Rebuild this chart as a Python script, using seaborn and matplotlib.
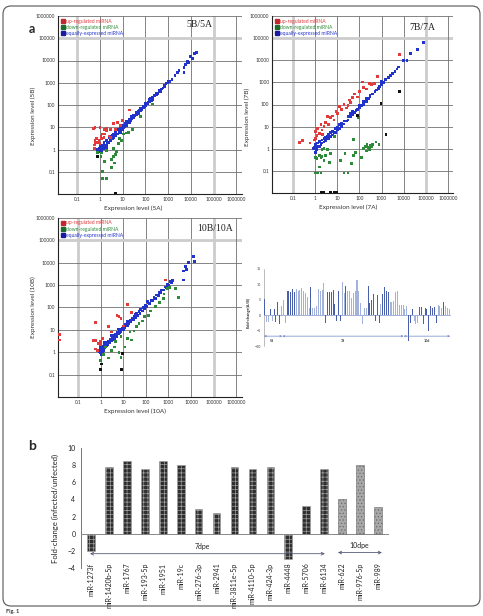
import matplotlib.pyplot as plt
import matplotlib.patches as mpatches
from matplotlib.lines import Line2D
from matplotlib.transforms import blended_transform_factory
import pandas as pd
import seaborn as sns

# ---- panel a: expression levels (A sample, B sample) per miRNA ----
p5_up = [(0.5, 9.0), (0.55, 1.1), (0.6, 10.0), (0.55, 1.6), (0.65, 2.0), (0.7, 3.0), (0.8, 2.0),
         (0.9, 2.5), (1.0, 10.0), (1.1, 4.0), (1.2, 3.0), (1.3, 5.0), (1.5, 8.0), (1.6, 5.0),
         (2.0, 9.0), (2.0, 7.0), (2.5, 4.0), (3.0, 8.0), (3.0, 3.5), (4.0, 15.0), (5.0, 8.0),
         (6.0, 16.0), (8.0, 12.0), (10.0, 20.0), (20.0, 60.0), (1.0, 1.8), (0.6, 2.5), (1.5, 3.5)]
p5_down = [(0.8, 0.76), (1.1, 0.5), (1.6, 0.3), (1.3, 0.1), (1.3, 0.05), (1.9, 0.05), (3.3, 0.16),
           (4.0, 0.47), (5.0, 0.6), (3.3, 0.35), (4.0, 1.1), (6.5, 1.9), (9.0, 2.6), (11.0, 5.0),
           (14.0, 5.5), (27.0, 8.0), (200.0, 110.0), (2.0, 0.9), (5.5, 0.8), (7.0, 3.0), (1.2, 0.7),
           (4.5, 0.25), (18.0, 6.0), (60.0, 30.0)]
p5_equal = [(0.8, 1.0), (0.9, 1.1), (1.0, 0.8), (1.0, 1.0), (1.0, 1.3), (1.1, 1.2), (1.2, 0.9),
            (1.3, 1.5), (1.5, 1.1), (1.5, 2.0), (1.8, 1.3), (2.0, 2.5), (2.0, 1.6), (2.5, 2.0),
            (2.5, 3.5), (3.0, 2.5), (3.0, 4.0), (3.5, 3.0), (4.0, 5.0), (4.0, 3.5), (5.0, 6.0),
            (5.0, 4.0), (6.0, 5.0), (6.0, 8.0), (7.0, 7.0), (8.0, 6.0), (8.0, 10.0), (9.0, 9.0),
            (10.0, 12.0), (10.0, 8.0), (12.0, 11.0), (13.0, 15.0), (15.0, 12.0), (15.0, 18.0),
            (18.0, 16.0), (20.0, 22.0), (20.0, 17.0), (25.0, 24.0), (25.0, 30.0), (30.0, 28.0),
            (30.0, 35.0), (35.0, 32.0), (40.0, 38.0), (40.0, 45.0), (50.0, 50.0), (50.0, 42.0),
            (60.0, 55.0), (60.0, 70.0), (70.0, 65.0), (80.0, 75.0), (80.0, 90.0), (100.0, 95.0),
            (100.0, 120.0), (120.0, 110.0), (150.0, 140.0), (150.0, 170.0), (180.0, 160.0),
            (200.0, 210.0), (200.0, 180.0), (250.0, 260.0), (300.0, 280.0), (300.0, 340.0),
            (400.0, 380.0), (400.0, 450.0), (500.0, 520.0), (600.0, 580.0), (700.0, 750.0),
            (800.0, 900.0), (1000.0, 1000.0), (1000.0, 1200.0), (1500.0, 1400.0), (2000.0, 2100.0),
            (3000.0, 3500.0), (5000.0, 5000.0), (5000.0, 3000.0), (6000.0, 6500.0), (7000.0, 9000.0),
            (8000.0, 8000.0), (10000.0, 15000.0), (12000.0, 12000.0), (15000.0, 20000.0),
            (18000.0, 22000.0), (1.2, 1.0), (1.4, 1.3), (2.2, 2.0), (2.8, 3.0), (3.5, 4.5), (4.5, 4.5),
            (5.5, 5.0), (7.0, 5.5), (11.0, 10.0), (14.0, 13.0), (22.0, 20.0), (28.0, 26.0), (45.0, 40.0),
            (55.0, 60.0), (90.0, 85.0), (130.0, 125.0), (170.0, 190.0), (350.0, 320.0), (450.0, 420.0),
            (700.0, 650.0), (1200.0, 1100.0), (2500.0, 2800.0), (1.6, 1.5), (2.0, 1.2), (1.0, 1.7)]
p5_other = [(0.8, 0.5), (5.0, 0.011)]

p7_up = [(0.19, 1.9), (0.27, 2.3), (0.58, 1.8), (0.9, 2.5), (1.0, 6.0), (1.2, 4.0), (1.3, 8.5),
         (1.5, 5.0), (1.8, 12.0), (2.0, 7.0), (2.5, 10.0), (3.0, 15.0), (3.6, 28.0), (4.0, 12.0),
         (5.0, 25.0), (6.0, 30.0), (8.6, 47.0), (10.0, 40.0), (12.0, 80.0), (15.0, 60.0), (20.0, 100.0),
         (25.0, 70.0), (35.0, 160.0), (40.0, 120.0), (50.0, 200.0), (60.0, 300.0), (82.0, 220.0),
         (100.0, 400.0), (138.0, 1050.0), (150.0, 600.0), (200.0, 500.0), (280.0, 890.0),
         (350.0, 800.0), (470.0, 890.0), (660.0, 1900.0), (6300.0, 18000.0), (1.0, 3.0), (2.2, 4.5),
         (7.0, 20.0), (30.0, 90.0)]
p7_down = [(1.0, 0.4), (1.2, 0.35), (1.5, 0.5), (1.8, 0.4), (2.0, 0.45), (1.0, 0.08), (1.3, 0.08),
           (1.8, 0.08), (1.5, 0.15), (2.0, 0.9), (2.5, 1.0), (3.5, 0.95), (2.5, 0.3), (4.5, 0.23),
           (7.2, 3.5), (14.0, 0.3), (20.0, 0.08), (30.0, 0.08), (22.0, 0.6), (45.0, 0.22), (55.0, 0.5),
           (65.0, 0.7), (55.0, 2.7), (150.0, 1.0), (180.0, 1.3), (220.0, 1.5), (250.0, 1.1),
           (300.0, 1.4), (350.0, 1.2), (400.0, 1.5), (200.0, 0.8), (280.0, 0.9), (560.0, 2.0),
           (760.0, 1.5), (5.0, 0.6), (3.0, 0.5), (90.0, 25.0), (120.0, 0.4)]
p7_equal = [(0.9, 1.2), (1.0, 1.0), (1.0, 1.5), (1.1, 0.9), (1.2, 1.3), (1.3, 1.8), (1.5, 1.3),
            (1.5, 2.2), (1.8, 1.6), (2.0, 2.5), (2.0, 1.8), (2.5, 2.8), (2.5, 2.0), (3.0, 3.2),
            (3.0, 2.4), (3.5, 3.5), (4.0, 3.0), (4.0, 4.5), (5.0, 3.5), (5.0, 5.5), (6.0, 4.2),
            (6.0, 6.0), (7.0, 5.5), (8.0, 5.5), (8.0, 8.0), (10.0, 7.0), (10.0, 9.0), (12.0, 8.0),
            (12.0, 12.0), (15.0, 10.0), (15.0, 14.0), (20.0, 13.0), (20.0, 18.0), (25.0, 18.0),
            (30.0, 20.0), (30.0, 28.0), (40.0, 28.0), (40.0, 38.0), (50.0, 35.0), (50.0, 50.0),
            (60.0, 45.0), (70.0, 55.0), (80.0, 60.0), (100.0, 70.0), (100.0, 90.0), (120.0, 90.0),
            (150.0, 100.0), (150.0, 140.0), (200.0, 140.0), (200.0, 190.0), (250.0, 180.0),
            (300.0, 220.0), (300.0, 260.0), (400.0, 300.0), (500.0, 380.0), (600.0, 450.0),
            (700.0, 550.0), (800.0, 650.0), (1000.0, 800.0), (1000.0, 1100.0), (1200.0, 1000.0),
            (1500.0, 1300.0), (2000.0, 1700.0), (2500.0, 2000.0), (3000.0, 2500.0), (4000.0, 3000.0),
            (5000.0, 4000.0), (6000.0, 5000.0), (10000.0, 10000.0), (14000.0, 10000.0),
            (20000.0, 20000.0), (43000.0, 30000.0), (78000.0, 65000.0), (0.8, 1.0), (1.0, 0.7),
            (1.2, 1.1)]
p7_other = [(80.0, 33.0), (940.0, 110.0), (1600.0, 4.3), (6300.0, 400.0), (1.8, 0.011),
            (2.3, 0.011), (5.0, 0.011), (7.5, 0.011), (9.5, 0.011)]

p10_up = [(0.58, 21.0), (0.5, 3.4), (0.6, 3.4), (0.8, 2.5), (0.95, 3.0), (0.58, 1.4), (0.7, 1.2),
          (2.3, 14.0), (5.3, 45.0), (6.5, 40.0), (8.0, 33.0), (16.0, 140.0), (23.0, 60.0),
          (750.0, 1700.0), (0.015, 6.0), (0.015, 3.5), (3.0, 8.0), (1.2, 4.0), (10.0, 15.0), (1.0, 2.2)]
p10_down = [(1.0, 0.44), (2.3, 0.55), (1.6, 1.7), (4.0, 1.7), (6.5, 1.0), (8.0, 0.6), (12.0, 1.7),
            (16.0, 4.0), (23.0, 3.5), (30.0, 9.0), (40.0, 14.0), (70.0, 25.0), (130.0, 45.0),
            (160.0, 70.0), (400.0, 170.0), (640.0, 400.0), (900.0, 700.0), (1100.0, 800.0),
            (2700.0, 280.0), (4.5, 3.0), (8.0, 5.0), (90.0, 40.0), (260.0, 110.0), (600.0, 250.0),
            (2000.0, 700.0), (1.3, 0.8), (3.0, 1.2), (20.0, 8.0), (50.0, 20.0)]
p10_equal = [(1.0, 1.0), (1.0, 1.5), (1.0, 2.0), (1.1, 0.8), (1.1, 1.3), (1.2, 1.8), (1.3, 1.2),
             (1.4, 2.2), (1.5, 1.6), (1.6, 2.5), (1.8, 2.0), (2.0, 2.8), (2.0, 2.2), (2.3, 3.2),
             (2.5, 2.6), (2.7, 3.8), (3.0, 3.2), (3.2, 4.5), (3.5, 3.6), (4.0, 5.5), (4.0, 4.2),
             (4.5, 6.0), (5.0, 5.0), (5.5, 7.5), (6.0, 6.5), (6.5, 9.0), (7.0, 7.5), (8.0, 11.0),
             (8.0, 8.5), (9.0, 12.0), (10.0, 10.0), (10.0, 15.0), (12.0, 13.0), (13.0, 18.0),
             (15.0, 16.0), (16.0, 22.0), (18.0, 19.0), (20.0, 27.0), (22.0, 23.0), (25.0, 33.0),
             (28.0, 28.0), (30.0, 40.0), (35.0, 36.0), (40.0, 52.0), (45.0, 45.0), (50.0, 65.0),
             (55.0, 55.0), (60.0, 80.0), (70.0, 70.0), (80.0, 100.0), (90.0, 90.0), (100.0, 130.0),
             (110.0, 110.0), (130.0, 160.0), (150.0, 150.0), (170.0, 210.0), (200.0, 200.0),
             (230.0, 280.0), (270.0, 260.0), (300.0, 360.0), (350.0, 350.0), (400.0, 480.0),
             (450.0, 450.0), (500.0, 600.0), (600.0, 600.0), (700.0, 820.0), (800.0, 800.0),
             (900.0, 1100.0), (1000.0, 1000.0), (1200.0, 1400.0), (1400.0, 1300.0), (1500.0, 1600.0),
             (4500.0, 1700.0), (4800.0, 4300.0), (5800.0, 6700.0), (6500.0, 5000.0), (8000.0, 10000.0),
             (12600.0, 18600.0), (14000.0, 11000.0), (1.2, 1.0), (0.9, 1.1), (1.5, 2.8), (3.0, 5.5),
             (6.0, 11.0), (15.0, 25.0), (35.0, 50.0), (120.0, 180.0)]
p10_other = [(1.0, 0.17), (8.5, 0.17), (9.0, 0.9), (1.1, 0.3)]

decade_ticks = [0.1, 1, 10, 100, 1000, 10000, 100000, 1000000]
decade_labels = ['0.1', '1', '10', '100', '1000', '10000', '100000', '1000000']

# ---- inset: fold-change (A/B) per miRNA over 5d / 7d / 10d ----
inset_fc = [5.3, -2.3, -2.3, 2.0, -2.0, 2.0, -2.3, 4.3, -3.0, 3.0, 5.0, -2.5,
            8.0, 7.8, 7.6, 8.6, 7.5, 8.4, 8.0, 8.3, 8.7, 8.0, 7.2, 6.0, 2.2, 9.0, 2.5, 2.5, 3.0,
            8.5, 7.8, 8.3, 10.5, -2.5, 7.6, 7.4, 7.6, 8.3, 3.5, -2.0, 7.8, -2.0, 10.8, 7.2, 9.5,
            7.8, 7.8, 5.5, 7.3, 8.0, 11.5, 8.0, 4.0, -2.8, 2.3, 2.3, 9.4, 4.0, 5.0, 7.0, -2.0,
            6.5, -2.5, 3.7, 6.8, 9.0, 7.8, 7.6, 4.2, 4.2, 4.5, 7.6, 8.0, 3.2, 3.2, 3.2, 2.0, 3.0,
            -8.5, -2.5, 2.0, -2.0, -3.0, -2.5, 2.8, 2.8, -2.8, 2.2, 2.1, -5.0, 3.0, 2.3, 2.7, -2.5,
            3.2, 3.1, 2.5, 4.3, 3.0, 2.3, 2.0]
inset_series = list('dlldlddddlll'
                    'ddddd' 'llllllll' 'd' 'lllllll' 'ddddddddd' 'll' 'd' 'lllllllllll'
                    'ddddddd' 'l' 'dddd' 'llllllllll'
                    'ddd' 'lll' 'dddddddddd' 'lll' 'd' 'lll')
inset_periods = [('5d', -0.5, 9.4), ('7d', 9.4, 75.3), ('10d', 75.3, 100.6)]

# ---- panel b ----
b_mirna = ['miR-1273f', 'miR-1420b-5p', 'miR-1767', 'miR-193-5p', 'miR-1951', 'miR-19c',
           'miR-276-3p', 'miR-2941', 'miR-3811e-5p', 'miR-4110-5p', 'miR-424-3p', 'miR-4448',
           'miR-5706', 'miR-6134', 'miR-622', 'miR-976-5p', 'miR-989']
b_fold = [-2.0, 7.8, 8.5, 7.6, 8.5, 8.0, 2.9, 2.4, 7.8, 7.6, 7.8, -3.0, 3.2, 7.6, 4.1, 8.0, 3.1]
b_stage = ['7dpe'] * 14 + ['10dpe'] * 3

sns.set_style('white')
plt.rcParams['font.family'] = ['Lato', 'DejaVu Sans']
plt.rcParams['hatch.linewidth'] = 0.5

W, H = 483, 616
fig = plt.figure(figsize=(W / 100, H / 100), dpi=100)


def box(left, top, right, bottom):
    # pixel rectangle -> figure fraction
    return [left / W, 1 - bottom / H, (right - left) / W, (bottom - top) / H]


PAL = {'equal': '#2233cc', 'up': '#e23b3b', 'down': '#2c8a39', 'other': '#111111'}


def scatter_panel(rect, xlim, series, tag, tag_xy, xlabel, ylabel, xlab_xy, ylab_xy):
    ax = fig.add_axes(rect)
    ax.set_xscale('log')
    ax.set_yscale('log')
    df = pd.concat([pd.DataFrame(pts, columns=['a', 'b']).assign(kind=k) for k, pts in series.items()],
                   ignore_index=True)
    sns.scatterplot(data=df, x='a', y='b', hue='kind', palette=PAL, marker='s', s=4,
                    linewidth=0, legend=False, ax=ax, zorder=3)
    ax.set_xlim(*xlim)
    ax.set_ylim(0.01, 1e6)
    for d in decade_ticks:
        light = d in (0.1, 100000)
        ax.axvline(d, color='#cccccc' if light else '#707070', lw=2.0 if light else 0.6, zorder=1)
        light = d == 100000
        ax.axhline(d, color='#cccccc' if light else '#707070', lw=2.0 if light else 0.6, zorder=1)
    ax.set_xticks(decade_ticks, decade_labels)
    ax.set_yticks(decade_ticks, decade_labels)
    ax.minorticks_off()
    ax.tick_params(length=0, labelsize=3.4, pad=2, colors='#333333')
    for s in ('top', 'right'):
        ax.spines[s].set_visible(False)
    for s in ('left', 'bottom'):
        ax.spines[s].set_color('#222222')
        ax.spines[s].set_linewidth(0.8)
    ax.set_xlabel(xlabel, fontsize=4.6, color='#333333')
    ax.set_ylabel(ylabel, fontsize=4.6, color='#333333')
    ax.xaxis.set_label_coords(*xlab_xy)
    ax.yaxis.set_label_coords(*ylab_xy)
    handles = [Line2D([], [], marker='s', ls='', color=c, markersize=2.2)
               for c in ('#c0282d', '#1e6b2e', '#1a1aa0')]
    ax.legend(handles, ['up-regulated miRNA', 'down-regulated miRNA', 'equally-expressed miRNA'],
              loc='upper left', bbox_to_anchor=(0.0, 1.0), frameon=False, fontsize=3.6,
              labelcolor=['#e23b3b', '#2c8a39', '#2233cc'], handlelength=0.8, handletextpad=0.3,
              labelspacing=0.25, borderaxespad=0.3, borderpad=0.2)
    ax.text(*tag_xy, tag, transform=ax.transAxes, ha='right', va='top',
            family='Liberation Serif', fontsize=7, color='#222222')
    return ax


scatter_panel(box(58, 16, 242, 194), (0.0141, 1.8e6),
              {'equal': p5_equal, 'up': p5_up, 'down': p5_down, 'other': p5_other},
              '5B/5A', (0.842, 0.978), 'Expression level (5A)', 'Expression level (5B)',
              (0.41, -0.065), (-0.12, 0.44))
scatter_panel(box(272, 16, 453, 193), (0.011, 1.7e6),
              {'equal': p7_equal, 'up': p7_up, 'down': p7_down, 'other': p7_other},
              '7B/7A', (0.90, 0.96), 'Expression level (7A)', 'Expression level (7B)',
              (0.42, -0.065), (-0.12, 0.43))
scatter_panel(box(58, 218, 242, 397), (0.013, 1.8e6),
              {'equal': p10_equal, 'up': p10_up, 'down': p10_down, 'other': p10_other},
              '10B/10A', (0.95, 0.966), 'Expression level (10A)', 'Expression level (10B)',
              (0.42, -0.065), (-0.12, 0.5))

# inset bar chart
axi = fig.add_axes(box(264, 269, 450, 346))
sns.barplot(x=[str(i) for i in range(len(inset_fc))], y=inset_fc, color='#4a5fa9',
            width=0.55, ax=axi, zorder=3)
shade = {'d': '#4a5fa9', 'l': '#a3b2da'}
for patch, s in zip(axi.patches, inset_series):
    patch.set(facecolor=shade[s], edgecolor='none', linewidth=0)
axi.set_xlim(-0.5, len(inset_fc) - 0.5)
axi.set_ylim(-10, 15)
axi.set_yticks([-10, -5, 0, 5, 10, 15])
axi.set_xticks([])
axi.set_xlabel('')
axi.tick_params(axis='y', labelsize=2.6, length=1.2, width=0.4, pad=1, colors='#333333')
for s in ('top', 'right'):
    axi.spines[s].set_visible(False)
axi.spines['left'].set(color='#8a8a8a', linewidth=0.4)
axi.spines['bottom'].set_position(('data', 0))
axi.spines['bottom'].set(color='#7b90c9', linewidth=0.5)
axi.set_ylabel('Fold-change(A/B)', fontsize=2.8, weight='bold')
axi.yaxis.set_label_coords(-0.07, 0.44)
for name, x0, x1 in inset_periods:
    axi.annotate('', xy=(x1, -6.8), xytext=(x0, -6.8),
                 arrowprops=dict(arrowstyle='<->', color='#6f87c6', lw=0.5,
                                 shrinkA=0, shrinkB=0, mutation_scale=3))
    axi.text((x0 + x1) / 2 if name != '5d' else 4.0, -8.3, name, ha='center', va='center',
             fontsize=2.6, weight='bold', color='#333333')

# panel b
axb = fig.add_axes(box(81, 448, 388, 568))
sns.barplot(x=b_mirna, y=b_fold, color='#333333', width=0.43, ax=axb, zorder=3)
for patch, stage in zip(axb.patches, b_stage):
    if stage == '7dpe':
        patch.set(facecolor='#2e2e2e', edgecolor='#a0a0a0', hatch='++++', linewidth=0.4)
    else:
        patch.set(facecolor='#a8a8a8', edgecolor='#6a6a6a', hatch='.....', linewidth=0.4)
axb.set_xlim(-0.56, len(b_mirna) - 0.44)
axb.set_ylim(-4, 10)
axb.set_yticks(range(-4, 11, 2))
axb.set_xticks([i - 0.5 for i in range(len(b_mirna) + 1)], [])
axb.tick_params(axis='y', labelsize=5, length=2.5, width=0.6, pad=1.5, colors='#222222')
axb.tick_params(axis='x', length=2.5, width=0.6, colors='#888888')
for s in ('top', 'right'):
    axb.spines[s].set_visible(False)
axb.spines['left'].set(color='#777777', linewidth=0.7)
axb.spines['bottom'].set_position(('data', 0))
axb.spines['bottom'].set(color='#888888', linewidth=0.7)
axb.set_xlabel('')
axb.set_ylabel('Fold-change (infected/unfected)', fontsize=5.5, color='#222222')
axb.yaxis.set_label_coords(-0.072, 0.5)
trans = blended_transform_factory(axb.transData, axb.transAxes)
for i, name in enumerate(b_mirna):
    axb.text(i, 0.045, name, transform=trans, rotation=90, ha='center', va='top',
             fontsize=5, color='#222222')
axb.annotate('', xy=(13.04, -2.33), xytext=(-0.06, -2.33),
             arrowprops=dict(arrowstyle='<->', color='#555a7a', lw=0.6, shrinkA=0, shrinkB=0,
                             mutation_scale=5))
axb.annotate('', xy=(16.22, -2.2), xytext=(13.77, -2.2),
             arrowprops=dict(arrowstyle='<->', color='#555a7a', lw=0.6, shrinkA=0, shrinkB=0,
                             mutation_scale=5))
axb.text(6.19, -1.5, '7dpe', ha='center', va='center', fontsize=5, color='#222222')
axb.text(14.94, -1.4, '10dpe', ha='center', va='center', fontsize=5, color='#222222')

# panel letters, frame and caption
fig.text(32 / W, 1 - 29 / H, 'a', fontsize=9, weight='bold', ha='center', va='center')
fig.text(32 / W, 1 - 446 / H, 'b', fontsize=10, weight='bold', ha='center', va='center')
frame = mpatches.FancyBboxPatch((0.03, 0.10), 4.77, 6.00, boxstyle='round,pad=0,rounding_size=0.08',
                                transform=fig.dpi_scale_trans, fill=False, edgecolor='#555555',
                                linewidth=0.8)
fig.patches.append(frame)
fig.text(6 / W, 1 - 612 / H, 'Fig. 1', fontsize=4, weight='bold', va='center', color='#333333')

fig.savefig('out.png', dpi=100)
